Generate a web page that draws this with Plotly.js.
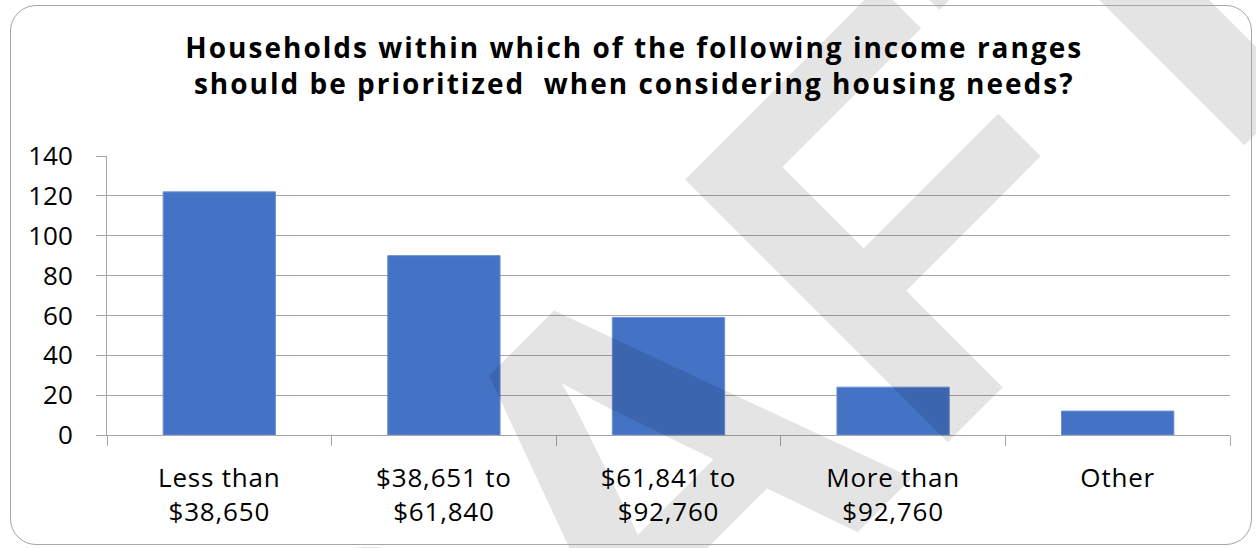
<!DOCTYPE html>
<html>
<head>
<meta charset="utf-8">
<script src="https://cdn.plot.ly/plotly-3.0.1.min.js"></script>
<style>
  html, body { margin: 0; padding: 0; background: #ffffff; }
  #chart { position: absolute; left: 0; top: 0; width: 1256px; height: 548px; }
  #frame { position: absolute; left: 10px; top: 5px; width: 1240px; height: 538px;
           border: 1.5px solid #a6a6a6; border-radius: 26px; pointer-events: none; }
  #chart .gtitle { letter-spacing: 2px; }
  #chart .xtick text { letter-spacing: 0.8px; }
</style>
</head>
<body>
<div id="chart"></div>
<div id="frame"></div>
<script>
const categories = [
  "Less than<br>$38,650",
  "$38,651 to<br>$61,840",
  "$61,841 to<br>$92,760",
  "More than<br>$92,760",
  "Other"
];
const counts = [122, 90, 59, 24, 12];
const yTicks = [0, 20, 40, 60, 80, 100, 120, 140];
const titleText = "Households within which of the following income ranges<br>should be prioritized  when considering housing needs?";
const watermarkText = "DRAFT";

const gridColor = "#a6a6a6";
const fontFam = "'Open Sans', Lato, sans-serif";

const trace = {
  type: "bar",
  x: categories,
  y: counts,
  marker: { color: "#4472C4", line: { color: "#6a8fd3", width: 1 } },
  hoverinfo: "x+y"
};

const layout = {
  width: 1256,
  height: 548,
  paper_bgcolor: "#ffffff",
  plot_bgcolor: "#ffffff",
  margin: { l: 107, r: 26, t: 156, b: 113 },
  bargap: 0.5,
  showlegend: false,
  title: {
    text: titleText,
    font: { family: fontFam, size: 28, color: "#000000", weight: "bold" },
    x: 0.505, xanchor: "center",
    y: 0.895, yanchor: "top",
    xref: "container", yref: "container"
  },
  xaxis: {
    type: "category",
    showgrid: false,
    showline: true,
    linecolor: gridColor,
    linewidth: 1,
    ticks: "outside",
    tickson: "boundaries",
    ticklen: 10,
    tickcolor: gridColor,
    tickwidth: 1,
    ticklabelstandoff: 20,
    tickfont: { family: fontFam, size: 26, color: "#000000" },
    fixedrange: true
  },
  yaxis: {
    range: [0, 140],
    tickvals: yTicks,
    ticktext: yTicks.map(String),
    showgrid: true,
    gridcolor: gridColor,
    gridwidth: 1,
    zeroline: false,
    showline: true,
    linecolor: gridColor,
    linewidth: 1,
    ticks: "outside",
    ticklen: 10,
    tickcolor: gridColor,
    tickwidth: 1,
    ticklabelstandoff: 18,
    tickfont: { family: fontFam, size: 26, color: "#000000" },
    fixedrange: true
  },
  annotations: [
    {
      text: watermarkText,
      xref: "paper", yref: "paper",
      x: 0.447, y: -0.287,
      xanchor: "center", yanchor: "middle",
      showarrow: false,
      textangle: -45,
      font: { family: "'Liberation Sans', Arial, sans-serif", size: 540, color: "rgba(0,0,0,0.105)", weight: "bold" }
    }
  ]
};

Plotly.newPlot("chart", [trace], layout, { displayModeBar: false, staticPlot: true });
</script>
</body>
</html>
